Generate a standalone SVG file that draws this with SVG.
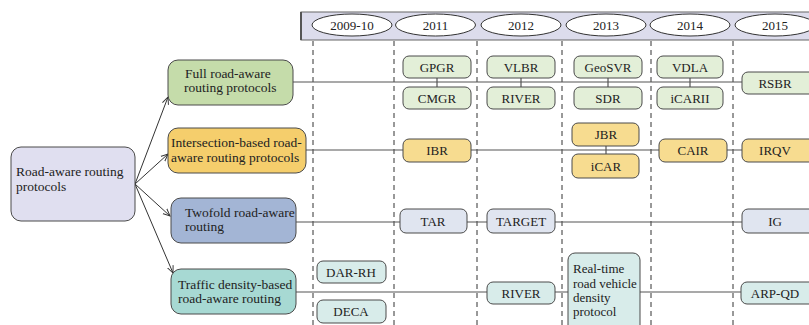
<svg xmlns="http://www.w3.org/2000/svg" width="809" height="325" viewBox="0 0 809 325">
<style>
text{font-family:"Liberation Serif","Times New Roman",serif;font-size:13px;fill:#222}
.c{text-anchor:middle}
.big{font-size:13.5px}
.n{stroke:#4a4a4a;stroke-width:1}
.dash{stroke:#333;stroke-width:1;stroke-dasharray:5,4;fill:none}
.row{stroke:#555;stroke-width:1.2;fill:none}
.g1{fill:#e3efd8}.g2{fill:#f7dc90}.g3{fill:#e0e5f0}.g4{fill:#d8ecea}
.ell{fill:#fff;stroke:#333;stroke-width:1}
</style>
<defs>
<marker id="ah" viewBox="0 0 10 10" refX="9" refY="5" markerWidth="8" markerHeight="8" orient="auto" markerUnits="userSpaceOnUse">
<path d="M0,1 L9,5 L0,9" fill="none" stroke="#333" stroke-width="1.2"/>
</marker>
</defs>
<rect width="809" height="325" fill="#fff"/>
<g id="header">
<rect x="301" y="12" width="520" height="28" fill="#dcdcec" stroke="#666" stroke-width="1"/>
<line x1="301" y1="12" x2="301" y2="40" stroke="#555" stroke-width="2"/>
<ellipse class="ell" cx="352" cy="25" rx="40" ry="11"/><text class="c" x="352" y="30">2009-10</text>
<ellipse class="ell" cx="435.5" cy="25" rx="40" ry="11"/><text class="c" x="435.5" y="30">2011</text>
<ellipse class="ell" cx="521" cy="25" rx="40" ry="11"/><text class="c" x="521" y="30">2012</text>
<ellipse class="ell" cx="606" cy="25" rx="40" ry="11"/><text class="c" x="606" y="30">2013</text>
<ellipse class="ell" cx="690" cy="25" rx="40" ry="11"/><text class="c" x="690" y="30">2014</text>
<ellipse class="ell" cx="775" cy="25" rx="40" ry="11"/><text class="c" x="775" y="30">2015</text>
</g>
<g id="gridlines">
<line class="dash" x1="313" y1="41" x2="313" y2="325"/>
<line class="dash" x1="394" y1="41" x2="394" y2="325"/>
<line class="dash" x1="477" y1="41" x2="477" y2="325"/>
<line class="dash" x1="562" y1="41" x2="562" y2="325"/>
<line class="dash" x1="651" y1="41" x2="651" y2="325"/>
<line class="dash" x1="733" y1="41" x2="733" y2="325"/>
</g>
<g id="connectors">
<line class="row" x1="293" y1="82" x2="809" y2="82"/>
<line class="row" x1="306" y1="150" x2="809" y2="150"/>
<line class="row" x1="296" y1="222" x2="809" y2="222"/>
<line class="row" x1="296" y1="292" x2="809" y2="292"/>
<line class="row" x1="437" y1="78" x2="437" y2="87"/>
<line class="row" x1="521" y1="78" x2="521" y2="87"/>
<line class="row" x1="608" y1="78" x2="608" y2="87"/>
<line class="row" x1="690" y1="78" x2="690" y2="87"/>
<line class="row" x1="606" y1="146" x2="606" y2="154"/>
<g stroke="#333" stroke-width="1" fill="none" marker-end="url(#ah)">
<line x1="135" y1="184" x2="168" y2="97"/>
<line x1="135" y1="184" x2="168" y2="154"/>
<line x1="135" y1="184" x2="170" y2="216"/>
<line x1="135" y1="184" x2="173" y2="273"/>
</g>
</g>
<g id="root">
<rect class="n" x="11" y="147" width="124" height="74" rx="10" fill="#e0dff0"/>
<text class="big" x="16" y="176">Road-aware routing</text>
<text class="big" x="16" y="191">protocols</text>
</g>
<g id="cat-full">
<rect class="n" x="168" y="60" width="125" height="45" rx="10" fill="#c5dcaa"/>
<text class="big" x="185" y="78">Full road-aware</text>
<text class="big" x="184" y="92">routing protocols</text>
</g>
<g id="cat-intersection">
<rect class="n" x="168" y="128" width="138" height="45" rx="10" fill="#f5ce6c"/>
<text class="big" x="171" y="147">Intersection-based road-</text>
<text class="big" x="171" y="162">aware routing protocols</text>
</g>
<g id="cat-twofold">
<rect class="n" x="171" y="198" width="125" height="45" rx="10" fill="#a3b5d5"/>
<text class="big" x="185" y="217">Twofold road-aware</text>
<text class="big" x="185" y="231">routing</text>
</g>
<g id="cat-traffic">
<rect class="n" x="171" y="269" width="125" height="45" rx="10" fill="#a7d9d3"/>
<text class="big" x="178" y="289">Traffic density-based</text>
<text class="big" x="178" y="303">road-aware routing</text>
</g>
<g id="n-gpgr"><rect class="n g1" x="403" y="56" width="68" height="22" rx="6"/><text class="c" x="437" y="72">GPGR</text></g>
<g id="n-cmgr"><rect class="n g1" x="403" y="87" width="68" height="22" rx="6"/><text class="c" x="437" y="103">CMGR</text></g>
<g id="n-vlbr"><rect class="n g1" x="487" y="56" width="68" height="22" rx="6"/><text class="c" x="521" y="72">VLBR</text></g>
<g id="n-river1"><rect class="n g1" x="487" y="87" width="68" height="22" rx="6"/><text class="c" x="521" y="103">RIVER</text></g>
<g id="n-geosvr"><rect class="n g1" x="574" y="56" width="68" height="22" rx="6"/><text class="c" x="608" y="72">GeoSVR</text></g>
<g id="n-sdr"><rect class="n g1" x="574" y="87" width="68" height="22" rx="6"/><text class="c" x="608" y="103">SDR</text></g>
<g id="n-vdla"><rect class="n g1" x="657" y="56" width="66" height="22" rx="6"/><text class="c" x="690" y="72">VDLA</text></g>
<g id="n-icarii"><rect class="n g1" x="657" y="87" width="66" height="22" rx="6"/><text class="c" x="690" y="103">iCARII</text></g>
<g id="n-rsbr"><rect class="n g1" x="742" y="72" width="80" height="22" rx="6"/><text class="c" x="775" y="88">RSBR</text></g>
<g id="n-ibr"><rect class="n g2" x="403" y="139" width="68" height="23" rx="6"/><text class="c" x="437" y="155">IBR</text></g>
<g id="n-jbr"><rect class="n g2" x="572" y="123" width="67" height="23" rx="6"/><text class="c" x="606" y="139">JBR</text></g>
<g id="n-icar"><rect class="n g2" x="572" y="154" width="67" height="24" rx="6"/><text class="c" x="606" y="171">iCAR</text></g>
<g id="n-cair"><rect class="n g2" x="659" y="139" width="68" height="23" rx="6"/><text class="c" x="693" y="155">CAIR</text></g>
<g id="n-irqv"><rect class="n g2" x="742" y="139" width="80" height="23" rx="6"/><text class="c" x="775" y="155">IRQV</text></g>
<g id="n-tar"><rect class="n g3" x="400" y="209" width="67" height="24" rx="6"/><text class="c" x="433" y="226">TAR</text></g>
<g id="n-target"><rect class="n g3" x="487" y="209" width="68" height="24" rx="6"/><text class="c" x="521" y="226">TARGET</text></g>
<g id="n-ig"><rect class="n g3" x="742" y="209" width="80" height="24" rx="6"/><text class="c" x="775" y="226">IG</text></g>
<g id="n-darrh"><rect class="n g4" x="317" y="261" width="69" height="22" rx="6"/><text class="c" x="351" y="277">DAR-RH</text></g>
<g id="n-deca"><rect class="n g4" x="317" y="300" width="69" height="23" rx="6"/><text class="c" x="351" y="316">DECA</text></g>
<g id="n-river2"><rect class="n g4" x="487" y="282" width="68" height="22" rx="6"/><text class="c" x="521" y="298">RIVER</text></g>
<g id="n-realtime"><rect class="n g4" x="568" y="253" width="72" height="85" rx="7"/>
<text x="573" y="273">Real-time</text><text x="573" y="288">road vehicle</text><text x="573" y="302">density</text><text x="573" y="316">protocol</text></g>
<g id="n-arpqd"><rect class="n g4" x="741" y="282" width="80" height="22" rx="6"/><text class="c" x="775" y="298">ARP-QD</text></g>
</svg>
